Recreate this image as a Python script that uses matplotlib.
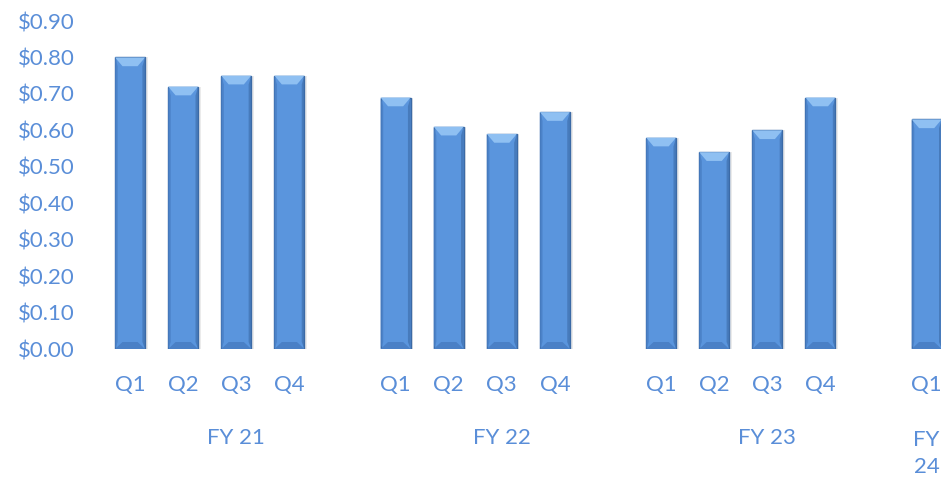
import matplotlib.pyplot as plt
import numpy as np
from matplotlib.patches import Polygon

# quarterly dividend per share
fiscal_years = ["FY 21", "FY 22", "FY 23", "FY\n24"]
quarters = [["Q1", "Q2", "Q3", "Q4"],
            ["Q1", "Q2", "Q3", "Q4"],
            ["Q1", "Q2", "Q3", "Q4"],
            ["Q1"]]
fy21 = [0.80, 0.72, 0.75, 0.75]
fy22 = [0.69, 0.61, 0.59, 0.65]
fy23 = [0.58, 0.54, 0.60, 0.69]
fy24 = [0.63]
y_ticks = [0.0, 0.1, 0.2, 0.3, 0.4, 0.5, 0.6, 0.7, 0.8, 0.9]

text_col = "#5a8ed8"
bar_col = "#5a95dd"
edge_col = "#3b6aa6"
top_col = "#8fc0f2"
side_col = "#4a80c6"

plt.rcParams["font.family"] = ["Lato", "DejaVu Sans"]

fig = plt.figure(figsize=(9.41, 4.79), dpi=100)
ax = fig.add_axes([103.5 / 941, 130 / 479, 837.5 / 941, 328 / 479])

# each fiscal year takes its quarters plus one empty slot
xs, vals, qlabels, fy_centers = [], [], [], []
pos = 0
for fy, qs, v in zip(fiscal_years, quarters, [fy21, fy22, fy23, fy24]):
    start = pos
    for q, val in zip(qs, v):
        xs.append(pos)
        vals.append(val)
        qlabels.append(q)
        pos += 1
    span = len(qs) + 1 if len(qs) == 4 else len(qs)
    fy_centers.append(start + (span - 1) / 2)
    pos += 1

xs = np.array(xs)
vals = np.array(vals)
w = 0.565

# soft shadow to the right
ax.bar(xs + 0.05, vals, width=w, color="#000000", alpha=0.08, zorder=1)
ax.bar(xs, vals, width=w, color=bar_col, edgecolor=edge_col, linewidth=1.0, zorder=2)

# bevel highlights
dx = 0.14
dy = 0.024
for x, v in zip(xs, vals):
    l, r = x - w / 2, x + w / 2
    ax.add_patch(Polygon([[l, v], [r, v], [r - dx, v - dy], [l + dx, v - dy]],
                         closed=True, color=top_col, zorder=3, lw=0))
    ax.add_patch(Polygon([[l, 0], [r, 0], [r - dx, dy * 0.8], [l + dx, dy * 0.8]],
                         closed=True, color=side_col, zorder=3, lw=0))
    ax.add_patch(Polygon([[r, 0], [r, v], [r - 0.05, v - dy], [r - 0.05, dy * 0.8]],
                         closed=True, color=edge_col, alpha=0.6, zorder=3, lw=0))
    ax.add_patch(Polygon([[l, 0], [l, v], [l + 0.05, v - dy], [l + 0.05, dy * 0.8]],
                         closed=True, color=side_col, alpha=0.8, zorder=3, lw=0))

ax.set_xlim(-0.5, 15.27)
ax.set_ylim(0, 0.9)
ax.set_yticks(y_ticks)
ax.set_yticklabels(["${:.2f}".format(t) for t in y_ticks])
ax.set_xticks(xs)
ax.set_xticklabels(qlabels)
ax.tick_params(axis="both", length=0, labelsize=16, labelcolor=text_col)
ax.tick_params(axis="x", pad=19)
ax.tick_params(axis="y", pad=21)
for lab in ax.get_yticklabels():
    lab.set_horizontalalignment("right")

for fy, c in zip(fiscal_years, fy_centers):
    off = -64 if "\n" not in fy else -75
    ax.annotate(fy, xy=(c, 0), xycoords=("data", "axes fraction"),
                xytext=(0, off), textcoords="offset points",
                ha="center", va="center", fontsize=16, color=text_col,
                linespacing=1.45, annotation_clip=False)

for s in ax.spines.values():
    s.set_visible(False)

fig.savefig("out.png", dpi=100)
